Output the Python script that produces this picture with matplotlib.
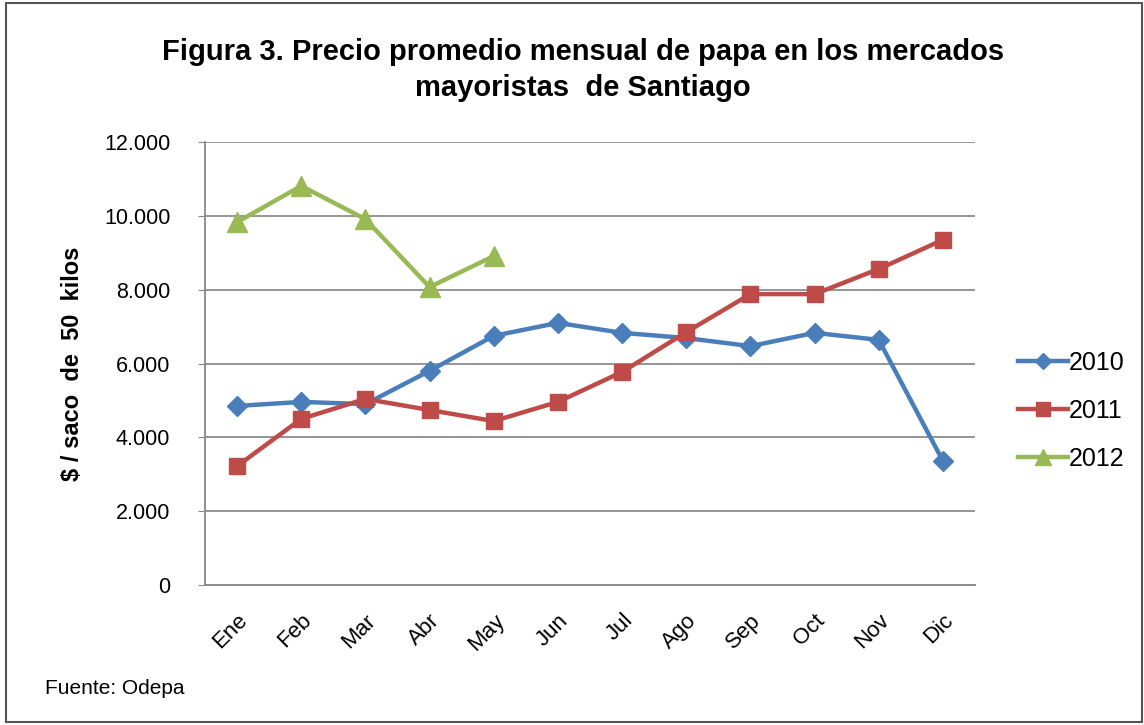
import matplotlib
matplotlib.use("Agg")
import matplotlib.pyplot as plt
from matplotlib.patches import Rectangle
from matplotlib.ticker import FuncFormatter

meses = ['Ene', 'Feb', 'Mar', 'Abr', 'May', 'Jun', 'Jul', 'Ago', 'Sep', 'Oct', 'Nov', 'Dic']
p2010 = [4850, 4960, 4900, 5800, 6750, 7100, 6830, 6690, 6470, 6830, 6640, 3360]
p2011 = [3220, 4500, 5040, 4740, 4440, 4960, 5770, 6850, 7880, 7880, 8560, 9350]
p2012 = [9830, 10810, 9910, 8070, 8910]

plt.rcParams['font.family'] = ['Liberation Sans', 'DejaVu Sans']

fig = plt.figure(figsize=(11.44, 7.25), dpi=100)
ax = fig.add_axes([205/1144, 1-585/725, 770/1144, 443/725])

x = range(len(meses))
ax.plot(x, p2010, color='#4A7EBB', lw=3.2, marker='D', ms=10, label='2010')
ax.plot(x, p2011, color='#BE4B48', lw=3.2, marker='s', ms=12, label='2011')
ax.plot(range(len(p2012)), p2012, color='#98B954', lw=3.2, marker='^', ms=14, label='2012')

ax.set_xlim(-0.5, 11.5)
ax.set_ylim(0, 12000)
ax.set_yticks(range(0, 12001, 2000))
ax.yaxis.set_major_formatter(FuncFormatter(lambda v, p: f'{int(v):,}'.replace(',', '.')))
ax.set_xticks(list(x))
ax.set_xticklabels(meses, rotation=45, ha='right', rotation_mode='anchor', fontsize=16)
ax.tick_params(axis='y', labelsize=15.5, length=5, color='#888888', pad=20)
ax.tick_params(axis='x', length=0, pad=18)
ax.grid(axis='y', color='#8c8c8c', lw=1.3)
ax.set_axisbelow(True)
for s in ['top', 'right']:
    ax.spines[s].set_visible(False)
ax.spines['left'].set_color('#888888')
ax.spines['bottom'].set_color('#888888')
ax.spines['left'].set_linewidth(1.3)
ax.spines['bottom'].set_linewidth(1.3)

ax.set_ylabel('$ / saco  de  50  kilos', fontsize=17, fontweight='bold', labelpad=14)

fig.legend(loc='center left', bbox_to_anchor=(995/1144, 1-411/725), frameon=False,
           fontsize=18, handlelength=2.0, handletextpad=0.05, labelspacing=0.95,
           markerscale=0.8)

fig.text(583/1144, 1-70/725, 'Figura 3. Precio promedio mensual de papa en los mercados\nmayoristas  de Santiago',
         ha='center', va='center', fontsize=21, fontweight='bold', linespacing=1.4)
fig.text(45/1144, 1-688/725, 'Fuente: Odepa', ha='left', va='center', fontsize=15)

fig.patches.append(Rectangle((6/1144, 3/725), 1-8/1144, 1-6/725, transform=fig.transFigure,
                             fill=False, edgecolor='#555555', lw=1.5))

fig.savefig('out.png', dpi=100)
